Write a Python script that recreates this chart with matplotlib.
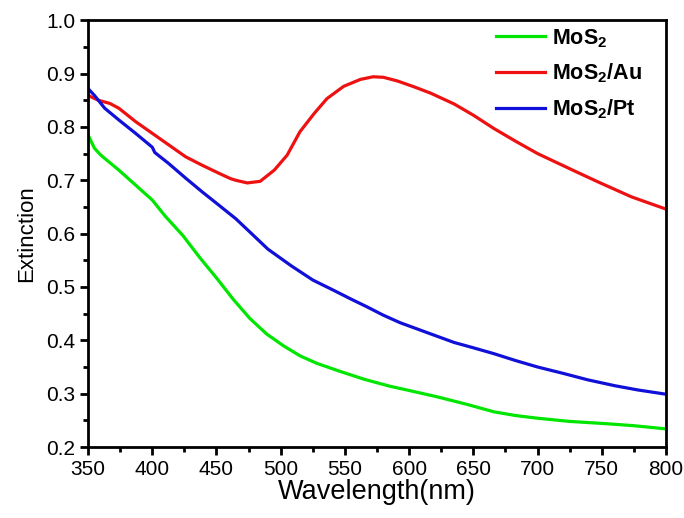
import matplotlib
matplotlib.use("Agg")
import matplotlib.pyplot as plt
import numpy as np
from matplotlib.ticker import MultipleLocator, FormatStrFormatter

plt.rcParams['font.family'] = ['Liberation Sans', 'DejaVu Sans']
plt.rcParams['mathtext.fontset'] = 'custom'
plt.rcParams['mathtext.bf'] = 'Liberation Sans:bold'
plt.rcParams['mathtext.rm'] = 'Liberation Sans'

wl_au = [350, 358, 367, 374, 387, 400, 413, 426, 439, 452, 461, 465, 474, 484, 495, 505, 515, 526,
         536, 549, 562, 572, 580, 591, 604, 617, 635, 650, 666, 683, 700, 715, 730, 747, 760, 773, 787, 800]
ext_au = [0.859, 0.850, 0.844, 0.835, 0.810, 0.788, 0.766, 0.744, 0.728, 0.713, 0.703, 0.700, 0.695, 0.698,
          0.719, 0.747, 0.791, 0.825, 0.853, 0.876, 0.889, 0.894, 0.893, 0.886, 0.875, 0.863, 0.843, 0.822,
          0.797, 0.773, 0.750, 0.733, 0.716, 0.697, 0.683, 0.669, 0.657, 0.646]

wl_pt = [350, 355, 359, 363, 374, 387, 400, 402, 413, 426, 439, 451, 465, 476, 490, 508, 525, 541, 555,
         567, 580, 593, 610, 635, 650, 666, 683, 700, 720, 739, 760, 778, 800]
ext_pt = [0.872, 0.859, 0.847, 0.835, 0.813, 0.788, 0.762, 0.752, 0.731, 0.704, 0.678, 0.655, 0.628,
          0.603, 0.571, 0.540, 0.513, 0.494, 0.477, 0.463, 0.447, 0.433, 0.418, 0.396, 0.386, 0.375, 0.362,
          0.350, 0.338, 0.326, 0.315, 0.307, 0.299]

wl_mos = [350, 355, 360, 374, 387, 400, 410, 424, 437, 450, 463, 476, 489, 502, 515, 528, 546, 565,
          585, 600, 622, 645, 666, 683, 700, 725, 752, 775, 800]
ext_mos = [0.785, 0.760, 0.747, 0.719, 0.691, 0.663, 0.633, 0.596, 0.555, 0.517, 0.477, 0.441, 0.412,
           0.390, 0.371, 0.357, 0.342, 0.327, 0.314, 0.306, 0.294, 0.280, 0.266, 0.259, 0.254, 0.248,
           0.244, 0.240, 0.234]

fig = plt.figure(figsize=(6.84, 5.18), dpi=100)
ax = fig.add_axes([0.1287, 0.137, 0.845, 0.824])

lw = 2.3
ax.plot(wl_mos, ext_mos, color='#00e600', lw=lw, label=r'MoS$_\mathbf{2}$')
ax.plot(wl_au, ext_au, color='#ee1111', lw=lw, label=r'MoS$_\mathbf{2}$/Au')
ax.plot(wl_pt, ext_pt, color='#1010d8', lw=lw, label=r'MoS$_\mathbf{2}$/Pt')

ax.set_xlim(350, 800)
ax.set_ylim(0.2, 1.0)
ax.xaxis.set_major_locator(MultipleLocator(50))
ax.xaxis.set_minor_locator(MultipleLocator(25))
ax.yaxis.set_major_locator(MultipleLocator(0.1))
ax.yaxis.set_minor_locator(MultipleLocator(0.05))
ax.yaxis.set_major_formatter(FormatStrFormatter('%.1f'))

for s in ax.spines.values():
    s.set_linewidth(2.0)
ax.tick_params(which='major', direction='out', length=6, width=2, labelsize=15, top=False, right=False, pad=3)
ax.tick_params(which='minor', direction='out', length=3.5, width=2, top=False, right=False)

ax.set_xlabel('Wavelength(nm)', fontsize=19.5, labelpad=0)
ax.set_ylabel('Extinction', fontsize=16, labelpad=7)

leg = ax.legend(loc='upper left', bbox_to_anchor=(0.706, 0.984), frameon=False,
                prop={'weight': 'bold', 'size': 15.5}, borderpad=0, borderaxespad=0,
                handlelength=2.25, handletextpad=0.37, labelspacing=0.56)

fig.savefig('out.png', dpi=100)
